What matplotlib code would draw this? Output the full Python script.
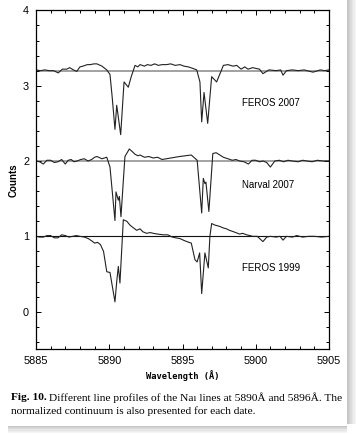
import matplotlib
matplotlib.use("Agg")
import matplotlib.pyplot as plt
from matplotlib.patches import Rectangle
from matplotlib.ticker import MultipleLocator

# spectra (wavelength in A, counts incl. offset)
feros07_wl = [5885.0, 5885.3, 5885.6, 5885.9, 5886.2, 5886.52, 5886.8, 5887.1, 5887.3, 5887.55,
              5887.78, 5888.0, 5888.21, 5888.5, 5888.7, 5888.95, 5889.16, 5889.5, 5889.83,
              5890.05, 5890.2, 5890.39, 5890.51, 5890.78, 5891.01, 5891.3, 5891.5, 5891.76,
              5891.95, 5892.1, 5892.4, 5892.6, 5892.85, 5893.1, 5893.35, 5893.6, 5893.9,
              5894.2, 5894.5, 5894.83, 5895.1, 5895.4, 5895.7, 5895.97, 5896.19, 5896.31,
              5896.47, 5896.72, 5896.99, 5897.33, 5897.79, 5898.1, 5898.45, 5898.7, 5899.0,
              5899.25, 5899.47, 5899.8, 5900.0, 5900.25, 5900.49, 5900.9, 5901.4, 5901.7,
              5901.86, 5902.1, 5902.5, 5902.9, 5903.3, 5903.7, 5903.91, 5904.4, 5904.7,
              5905.0]
feros07_fl = [3.21, 3.20, 3.21, 3.20, 3.2, 3.17, 3.22, 3.22, 3.24, 3.21,
              3.19, 3.25, 3.26, 3.28, 3.28, 3.29, 3.29, 3.26, 3.21,
              3.15, 2.85, 2.42, 2.74, 2.35, 3.05, 2.98, 3.12, 3.27,
              3.25, 3.28, 3.26, 3.28, 3.27, 3.29, 3.27, 3.28, 3.28,
              3.29, 3.27, 3.28, 3.26, 3.25, 3.23, 3.21, 3.05, 2.52,
              2.91, 2.50, 3.12, 3.05, 3.27, 3.28, 3.26, 3.27, 3.22,
              3.25, 3.22, 3.24, 3.23, 3.22, 3.16, 3.21, 3.2, 3.21,
              3.14, 3.2, 3.21, 3.20, 3.21, 3.19, 3.18, 3.21, 3.20,
              3.21]

narval_wl = [5885.0, 5885.25, 5885.5, 5885.75, 5886.0, 5886.25, 5886.5, 5886.75, 5887.0,
             5887.2, 5887.4, 5887.6, 5887.8, 5888.05, 5888.3, 5888.55, 5888.8, 5889.0,
             5889.16, 5889.5, 5889.83, 5890.05, 5890.39, 5890.46, 5890.62, 5890.69,
             5890.8, 5891.07, 5891.37, 5891.6, 5891.76, 5891.95, 5892.1, 5892.4, 5892.7,
             5893.0, 5893.3, 5893.6, 5893.9, 5894.2, 5894.5, 5894.8, 5895.2, 5895.6,
             5896.0, 5896.31, 5896.42, 5896.53, 5896.6, 5896.8, 5897.07, 5897.3,
             5897.55, 5897.79, 5898.1, 5898.4, 5898.65, 5898.9, 5899.2, 5899.5, 5899.75,
             5900.0, 5900.25, 5900.5, 5900.75, 5901.0, 5901.3, 5901.6, 5901.9, 5902.2,
             5902.5, 5902.9, 5903.2, 5903.5, 5903.85, 5904.2, 5904.6, 5905.0]
narval_fl = [2.0, 1.99, 1.96, 2.01, 2.01, 1.98, 1.99, 2.02, 1.96,
             2.01, 2.02, 1.99, 2.0, 2.02, 2.03, 2.0, 2.02, 2.05,
             2.06, 2.03, 2.05, 1.92, 1.21, 1.59, 1.48, 1.53,
             1.26, 2.06, 2.16, 2.12, 2.09, 2.07, 2.08, 2.05, 2.06,
             2.04, 2.05, 2.02, 2.03, 2.04, 2.05, 2.06, 2.07, 2.08,
             2.01, 1.31, 1.77, 1.70, 1.72, 1.33, 2.10, 2.11,
             2.08, 2.05, 2.03, 2.01, 2.02, 2.0, 1.99, 1.96, 2.01,
             2.01, 1.99, 2.0, 1.98, 1.92, 2.0, 2.01, 1.99, 2.01,
             2.0, 1.99, 2.01, 2.0, 1.99, 2.01, 2.0, 2.0]

feros99_wl = [5885.0, 5885.25, 5885.5, 5885.75, 5886.0, 5886.25, 5886.5, 5886.75, 5887.0,
              5887.25, 5887.5, 5887.75, 5888.0, 5888.3, 5888.57, 5888.8, 5889.0,
              5889.2, 5889.4, 5889.61, 5889.83, 5890.05, 5890.39, 5890.51, 5890.62, 5890.73,
              5890.96, 5891.2, 5891.41, 5891.6, 5891.87, 5892.1, 5892.3, 5892.55, 5892.8,
              5893.0, 5893.3, 5893.7, 5894.0, 5894.3, 5894.55, 5894.83, 5895.05, 5895.3,
              5895.6, 5895.85, 5896.0, 5896.17, 5896.31, 5896.53, 5896.76, 5896.87,
              5896.99, 5897.2, 5897.4, 5897.56, 5897.8, 5898.0, 5898.2, 5898.5, 5898.9,
              5899.1, 5899.38, 5899.6, 5899.8, 5900.1, 5900.49, 5900.75, 5901.0, 5901.4,
              5901.65, 5901.86, 5902.1, 5902.5, 5902.8, 5903.2, 5903.6, 5904.0, 5904.5,
              5905.0]
feros99_fl = [1.0, 0.99, 0.99, 1.01, 1.01, 0.98, 0.98, 1.02, 1.01,
              0.99, 1.0, 1.01, 1.0, 0.99, 0.97, 0.94, 0.91,
              0.92, 0.89, 0.80, 0.53, 0.52, 0.13, 0.40, 0.60, 0.38,
              1.22, 1.20, 1.15, 1.12, 1.08, 1.10, 1.06, 1.04, 1.05,
              1.04, 1.03, 1.02, 1.02, 0.99, 0.98, 0.97, 0.95, 0.93,
              0.91, 0.69, 0.66, 0.78, 0.24, 0.78, 0.58, 1.0,
              1.17, 1.15, 1.14, 1.13, 1.11, 1.10, 1.08, 1.06, 1.03,
              1.04, 1.02, 1.01, 1.0, 1.0, 0.93, 0.99, 1.0, 0.99,
              1.0, 0.95, 1.0, 0.99, 1.01, 0.99, 1.0, 1.0, 0.99,
              1.0]

continua = [3.2, 2.0, 1.0]
cont_colors = ['#9a9a9a', '#8a8a8a', '#111111']
cont_widths = [1.3, 1.1, 0.8]
labels = ['FEROS 2007', 'Narval 2007', 'FEROS 1999']
label_y = [2.77, 1.68, 0.58]

fig = plt.figure(figsize=(3.56, 4.34), dpi=100)

# page drop shadow on the right and bottom
for i, a in enumerate([0.22, 0.18, 0.14, 0.10, 0.07, 0.04]):
    fig.patches.append(Rectangle((347 / 356 + i * 1.5 / 356, 10 / 434), 1.5 / 356, 1 - 10 / 434,
                                 transform=fig.transFigure, color='black', alpha=a, lw=0))
    fig.patches.append(Rectangle((8 / 356, 7 / 434 - i * 1.2 / 434), 339 / 356, 1.2 / 434,
                                 transform=fig.transFigure, color='black', alpha=a, lw=0))

ax = fig.add_axes([36 / 356, 84.7 / 434, 293 / 356, 338.9 / 434])

for c, col, w in zip(continua, cont_colors, cont_widths):
    ax.axhline(c, color=col, lw=w, zorder=1)

for wl, fl in [(feros07_wl, feros07_fl), (narval_wl, narval_fl), (feros99_wl, feros99_fl)]:
    ax.plot(wl, fl, color='#222222', lw=0.8, zorder=2)

for lab, y in zip(labels, label_y):
    ax.text(5899.05, y, lab, fontsize=7, family='Liberation Sans', va='center', ha='left')

ax.set_xlim(5885, 5905)
ax.set_ylim(-0.5, 4)
ax.xaxis.set_major_locator(MultipleLocator(5))
ax.xaxis.set_minor_locator(MultipleLocator(1))
ax.yaxis.set_major_locator(MultipleLocator(1))
ax.yaxis.set_minor_locator(MultipleLocator(0.2))
ax.tick_params(which='both', direction='in', top=True, right=True, width=0.7)
ax.tick_params(which='major', length=3.5, labelsize=7.8, pad=5)
ax.tick_params(which='minor', length=2)
for lbl in ax.get_xticklabels() + ax.get_yticklabels():
    lbl.set_family('Liberation Sans')
for s in ax.spines.values():
    s.set_linewidth(0.9)

ax.set_xlabel('Wavelength (Å)', family='DejaVu Sans Mono', fontweight='bold', fontsize=6.3, labelpad=3)
ax.set_ylabel('Counts', family='Liberation Sans', fontweight='bold', fontsize=7, labelpad=3)

cap_kw = dict(family='Liberation Serif', fontsize=8.2, va='center')
fig.canvas.draw()
bold = fig.text(11 / 356, 1 - 398 / 434, 'Fig. 10.', fontweight='bold', **cap_kw)
ext = bold.get_window_extent(renderer=fig.canvas.get_renderer())
fig.text((ext.x1 + 2) / 356, 1 - 398 / 434,
         'Different line profiles of the Na\u0131 lines at 5890Å and 5896Å. The', **cap_kw)
fig.text(11 / 356, 1 - 411 / 434, 'normalized continuum is also presented for each date.', **cap_kw)

fig.savefig('out.png', dpi=100)
